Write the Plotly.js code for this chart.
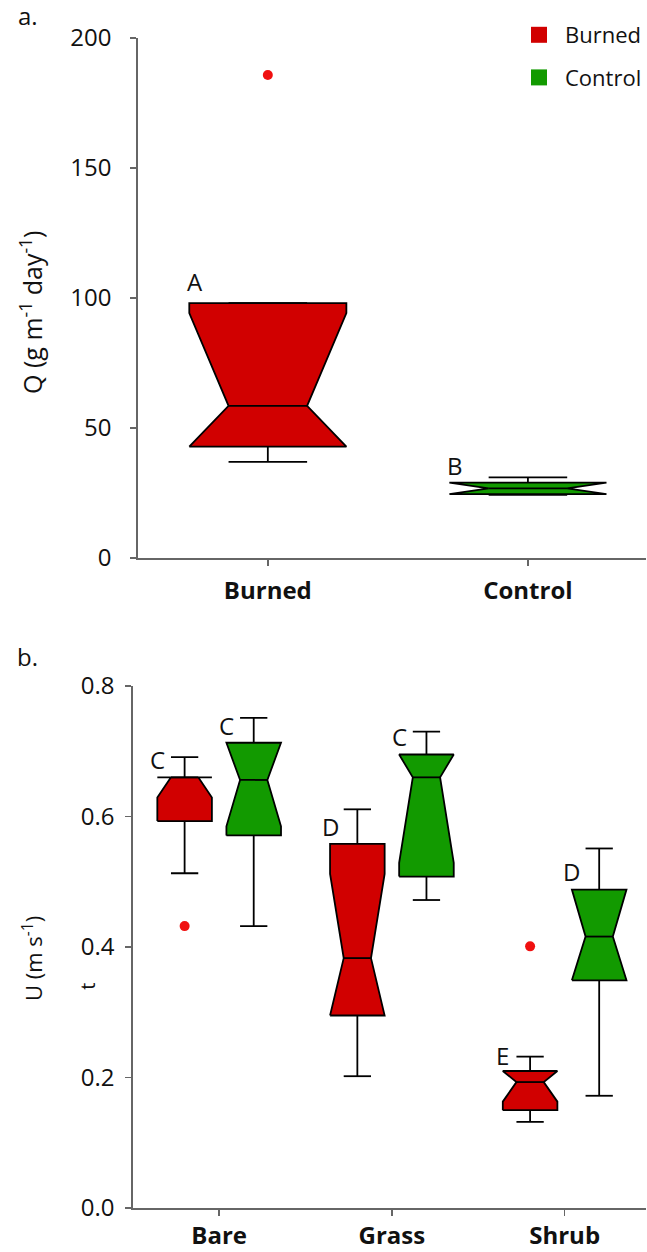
<!DOCTYPE html>
<html>
<head>
<meta charset="utf-8">
<script src="https://cdn.plot.ly/plotly-3.0.1.min.js"></script>
<style>html,body{margin:0;padding:0;background:#fff}#chart{width:647px;height:1252px}</style>
</head>
<body>
<div id="chart"></div>
<script>
// ---------- Panel a: Q (g m-1 day-1) ----------
const qCategories = ['Burned', 'Control'];
const qQ1 = [42.8, 24.6];
const qMedian = [58.5, 26.8];
const qQ3 = [98.0, 29.0];
const qNotchLow = [42.8, 24.6];
const qNotchHigh = [94.2, 29.0];
const qWhiskerLow = [37.0, 24.3];
const qWhiskerHigh = [98.0, 31.0];
const qOutliers = [[185.8], []];
const qLetters = ['A', 'B'];
const qLetterY = [106.5, 35.4];

// ---------- Panel b: Ut (m s-1) ----------
const uCategories = ['Bare', 'Grass', 'Shrub'];
const burnedQ1 = [0.593, 0.295, 0.150];
const burnedMedian = [0.660, 0.383, 0.193];
const burnedQ3 = [0.660, 0.558, 0.210];
const burnedNotchLow = [0.629, 0.295, 0.163];
const burnedNotchHigh = [0.660, 0.512, 0.210];
const burnedWhiskerLow = [0.513, 0.202, 0.132];
const burnedWhiskerHigh = [0.691, 0.611, 0.232];
const burnedOutliers = [[0.432], [], [0.401]];
const burnedLetters = ['C', 'D', 'E'];
const burnedLetterY = [0.688, 0.584, 0.234];

const controlQ1 = [0.571, 0.508, 0.349];
const controlMedian = [0.656, 0.660, 0.416];
const controlQ3 = [0.713, 0.695, 0.488];
const controlNotchLow = [0.585, 0.529, 0.349];
const controlNotchHigh = [0.713, 0.695, 0.488];
const controlWhiskerLow = [0.432, 0.472, 0.172];
const controlWhiskerHigh = [0.751, 0.730, 0.551];
const controlOutliers = [[], [], []];
const controlLetters = ['C', 'C', 'D'];
const controlLetterY = [0.739, 0.722, 0.515];

const seriesNames = ['Burned', 'Control'];

// ---------- styles ----------
const RED = '#d10000';
const GREEN = '#129a00';
const OUT_RED = '#f01010';
const FONT = 'Open Sans, Noto Sans, DejaVu Sans, sans-serif';

const traces = [];
const annotations = [];

function addBox(c, halfW, s, color, xa, ya) {
  const hn = halfW / 2;
  traces.push({
    type: 'scatter', mode: 'lines', xaxis: xa, yaxis: ya, showlegend: false, hoverinfo: 'skip',
    x: [c - halfW, c - halfW, c - hn, c - halfW, c - halfW, c + halfW, c + halfW, c + hn, c + halfW, c + halfW, c - halfW],
    y: [s.q1, s.nlo, s.med, s.nhi, s.q3, s.q3, s.nhi, s.med, s.nlo, s.q1, s.q1],
    fill: 'toself', fillcolor: color,
    line: {color: '#000', width: 1.8}
  });
  traces.push({
    type: 'scatter', mode: 'lines', xaxis: xa, yaxis: ya, showlegend: false, hoverinfo: 'skip',
    x: [c - hn, c + hn, null, c, c, null, c - hn, c + hn, null, c, c, null, c - hn, c + hn],
    y: [s.med, s.med, null, s.q3, s.wh, null, s.wh, s.wh, null, s.q1, s.wl, null, s.wl, s.wl],
    line: {color: '#000', width: 1.8}
  });
  if (s.out.length) {
    traces.push({
      type: 'scatter', mode: 'markers', xaxis: xa, yaxis: ya, showlegend: false, hoverinfo: 'skip',
      x: s.out.map(() => c), y: s.out,
      marker: {color: OUT_RED, size: 10}
    });
  }
}

function letter(x, y, text, xa, ya, xshift) {
  annotations.push({
    xref: xa, yref: ya, x: x, y: y, text: text, showarrow: false,
    xanchor: 'center', yanchor: 'middle', xshift: xshift || 0,
    font: {family: FONT, size: 24, color: '#111'}
  });
}

// Panel a boxes
const qHalfW = 0.302;
qCategories.forEach((cat, i) => {
  addBox(i, qHalfW, {
    q1: qQ1[i], med: qMedian[i], q3: qQ3[i], nlo: qNotchLow[i], nhi: qNotchHigh[i],
    wl: qWhiskerLow[i], wh: qWhiskerHigh[i], out: qOutliers[i]
  }, i === 0 ? RED : GREEN, 'x', 'y');
  letter(i - qHalfW, qLetterY[i], qLetters[i], 'x', 'y', 6);
});

// Panel b boxes
const uHalfW = 0.158;
const uOffset = 0.2;
uCategories.forEach((cat, i) => {
  addBox(i - uOffset, uHalfW, {
    q1: burnedQ1[i], med: burnedMedian[i], q3: burnedQ3[i], nlo: burnedNotchLow[i], nhi: burnedNotchHigh[i],
    wl: burnedWhiskerLow[i], wh: burnedWhiskerHigh[i], out: burnedOutliers[i]
  }, RED, 'x2', 'y2');
  addBox(i + uOffset, uHalfW, {
    q1: controlQ1[i], med: controlMedian[i], q3: controlQ3[i], nlo: controlNotchLow[i], nhi: controlNotchHigh[i],
    wl: controlWhiskerLow[i], wh: controlWhiskerHigh[i], out: controlOutliers[i]
  }, GREEN, 'x2', 'y2');
  letter(i - uOffset - uHalfW, burnedLetterY[i], burnedLetters[i], 'x2', 'y2', 0);
  letter(i + uOffset - uHalfW, controlLetterY[i], controlLetters[i], 'x2', 'y2', 0);
});

// legend entries
seriesNames.forEach((n, i) => {
  traces.push({
    type: 'scatter', mode: 'markers', x: [null], y: [null], xaxis: 'x', yaxis: 'y',
    name: n, legendgroup: n, showlegend: true,
    marker: {symbol: 'square', size: 18, color: i === 0 ? RED : GREEN}
  });
});

// paper-positioned texts
const W = 647, H = 1252;
function paperText(px, py, text, size, angle) {
  annotations.push({
    xref: 'paper', yref: 'paper', x: px / W, y: 1 - py / H, text: text, showarrow: false,
    xanchor: 'center', yanchor: 'middle', textangle: angle || 0,
    font: {family: FONT, size: size, color: '#111'}
  });
}
paperText(28, 16, 'a.', 24);
paperText(28, 656, 'b.', 24);
paperText(31, 312, 'Q (g m<sup>-1</sup> day<sup>-1</sup>)', 25, -90);
paperText(32, 958, 'U (m s<sup>-1</sup>)', 22, -90);
paperText(87, 986, 't', 20, -90);

const axisCommon = {
  showline: true, linecolor: '#666', linewidth: 1.5,
  ticks: 'outside', ticklen: 6, tickwidth: 1.5, tickcolor: '#666',
  showgrid: false, zeroline: false, fixedrange: true
};

const layout = {
  width: W, height: H,
  margin: {l: 0, r: 0, t: 0, b: 0},
  paper_bgcolor: '#fff', plot_bgcolor: '#fff',
  font: {family: FONT, color: '#111'},
  showlegend: true,
  legend: {
    x: 514 / W, y: 1 - 14 / H, xanchor: 'left', yanchor: 'top',
    bgcolor: 'rgba(0,0,0,0)', font: {family: FONT, size: 22, color: '#111'},
    tracegroupgap: 11, itemwidth: 42
  },
  xaxis: Object.assign({}, axisCommon, {
    domain: [138 / W, 1], range: [-0.5, 1.454], anchor: 'y',
    tickvals: [0, 1], ticktext: qCategories,
    tickfont: {family: FONT, size: 24, color: '#111', weight: 'bold'},
    ticklabelstandoff: 5
  }),
  yaxis: Object.assign({}, axisCommon, {
    domain: [1 - 558 / H, 1 - 38 / H], range: [0, 200], anchor: 'x',
    tickvals: [0, 50, 100, 150, 200],
    tickfont: {family: FONT, size: 24, color: '#111'},
    ticklabelstandoff: 14
  }),
  xaxis2: Object.assign({}, axisCommon, {
    domain: [133 / W, 1], range: [-0.5, 2.471], anchor: 'y2',
    tickvals: [0, 1, 2], ticktext: uCategories,
    tickfont: {family: FONT, size: 24, color: '#111', weight: 'bold'},
    ticklabelstandoff: 0
  }),
  yaxis2: Object.assign({}, axisCommon, {
    domain: [1 - 1208 / H, 1 - 686 / H], range: [0, 0.8], anchor: 'x2',
    tickvals: [0, 0.2, 0.4, 0.6, 0.8], tickformat: '.1f',
    tickfont: {family: FONT, size: 24, color: '#111'},
    ticklabelstandoff: 6
  }),
  annotations: annotations
};

Plotly.newPlot('chart', traces, layout, {displayModeBar: false, staticPlot: true});
</script>
</body>
</html>
